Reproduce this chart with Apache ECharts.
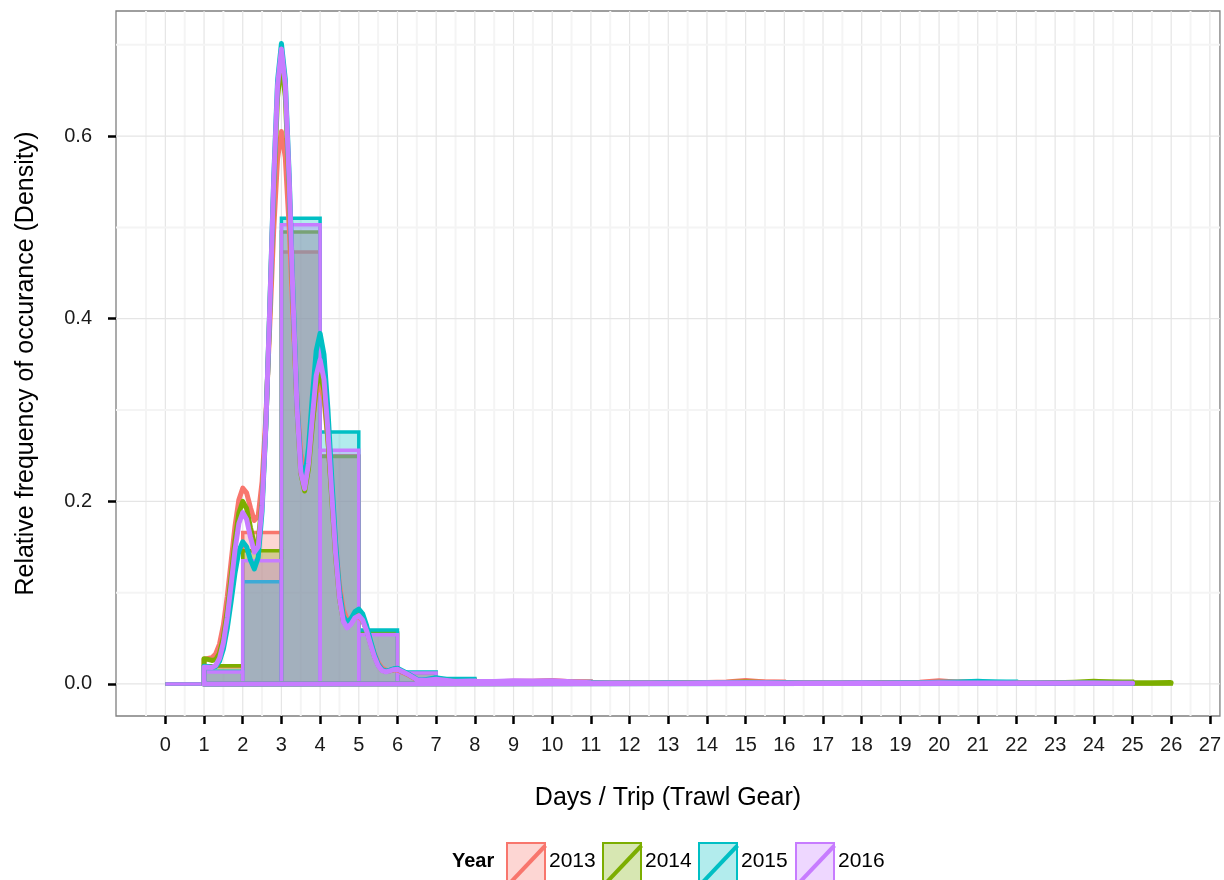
<!DOCTYPE html>
<html>
<head>
<meta charset="utf-8">
<script src="https://cdn.jsdelivr.net/npm/echarts@6/dist/echarts.min.js"></script>
<style>
  html, body { margin: 0; padding: 0; background: #ffffff; }
  #chart { width: 1224px; height: 880px; }
</style>
</head>
<body>
<div id="chart"></div>
<script>
// ---- data -------------------------------------------------------------
const years = ['2013', '2014', '2015', '2016'];

// histogram: bin k covers [k, k+1), heights are densities
const hist2013 = [0, 0.019, 0.166, 0.473, 0.250, 0.055, 0.012, 0.005, 0.002, 0.003, 0.003, 0.0015, 0.001,
  0.0015, 0.0015, 0.003, 0.0015, 0.001, 0.0015, 0.001, 0.003, 0.0015, 0.001, 0.001, 0.0015];
const hist2014 = [0, 0.020, 0.146, 0.495, 0.249, 0.056, 0.012, 0.005, 0.002, 0.002, 0.003, 0.001, 0.001,
  0.001, 0.0015, 0.002, 0.001, 0.001, 0.0015, 0.001, 0.002, 0.001, 0.001, 0.0015, 0.003, 0.001];
const hist2015 = [0, 0.014, 0.112, 0.510, 0.276, 0.059, 0.013, 0.006, 0.002, 0.002, 0.002, 0.001, 0.001,
  0.001, 0.001, 0.002, 0.001, 0.001, 0.001, 0.0015, 0.002, 0.003, 0.001, 0.001, 0.001];
const hist2016 = [0, 0.013, 0.135, 0.503, 0.256, 0.054, 0.012, 0.004, 0.002, 0.003, 0.003, 0.001, 0.001,
  0.001, 0.001, 0.0015, 0.001, 0.001, 0.001, 0.001, 0.0015, 0.001, 0.001, 0.001, 0.001];

// kernel density estimates sampled along days/trip
const densityX = [
  1.0, 1.1, 1.2, 1.3, 1.4, 1.5, 1.6, 1.7, 1.8, 1.9,
  2.0, 2.1, 2.2, 2.3, 2.4, 2.5, 2.6, 2.7, 2.8, 2.9,
  3.0, 3.1, 3.2, 3.3, 3.4, 3.5, 3.6, 3.7, 3.8, 3.9,
  4.0, 4.1, 4.2, 4.3, 4.4, 4.5, 4.6, 4.7, 4.8, 4.9,
  5.0, 5.1, 5.2, 5.3, 5.4, 5.5, 5.6, 5.7, 5.8, 5.9,
  6.0, 6.25, 6.5, 6.75, 7, 7.5, 8, 8.5, 9, 9.5, 10, 10.5, 11, 11.5, 12, 12.5, 13, 13.5,
  14, 14.5, 15, 15.5, 16, 16.5, 17, 17.5, 18, 18.5, 19, 19.5, 20, 20.5, 21, 21.5, 22, 22.5,
  23, 23.5, 24, 24.5, 25, 25.5, 26
];
const dens2013 = [
  0.0272, 0.0278, 0.0287, 0.0328, 0.0437, 0.0645, 0.0958, 0.1341, 0.1726, 0.2018,
  0.2144, 0.2092, 0.1930, 0.1791, 0.1843, 0.2214, 0.2943, 0.3934, 0.4967, 0.5752,
  0.6050, 0.5767, 0.5007, 0.4024, 0.3120, 0.2527, 0.2343, 0.2511, 0.2863, 0.3185,
  0.3297, 0.3117, 0.2676, 0.2098, 0.1529, 0.1084, 0.0814, 0.0706, 0.0702, 0.0732,
  0.0739, 0.0692, 0.0592, 0.0463, 0.0336, 0.0237, 0.0176, 0.0150, 0.0148, 0.0153,
  0.0154, 0.0105, 0.0046, 0.0042, 0.0058, 0.0030, 0.0028, 0.0024, 0.0030, 0.0030, 0.0038, 0.0024,
  0.0016, 0.0011, 0.0012, 0.0012, 0.0015, 0.0013, 0.0016, 0.0022, 0.0038, 0.0022, 0.0016, 0.0010,
  0.0011, 0.0011, 0.0016, 0.0013, 0.0013, 0.0018, 0.0034, 0.0020, 0.0018, 0.0011, 0.0010, 0.0009,
  0.0012, 0.0010, 0.0012, 0.0009, 0.0010
];
const dens2014 = [
  0.0275, 0.0270, 0.0257, 0.0266, 0.0337, 0.0509, 0.0797, 0.1175, 0.1568, 0.1873,
  0.1999, 0.1921, 0.1713, 0.1528, 0.1565, 0.1986, 0.2860, 0.4090, 0.5406, 0.6427,
  0.6814, 0.6437, 0.5437, 0.4167, 0.3027, 0.2307, 0.2113, 0.2360, 0.2833, 0.3260,
  0.3420, 0.3215, 0.2699, 0.2032, 0.1401, 0.0939, 0.0690, 0.0624, 0.0667, 0.0735,
  0.0759, 0.0711, 0.0596, 0.0448, 0.0309, 0.0206, 0.0150, 0.0135, 0.0143, 0.0157,
  0.0162, 0.0110, 0.0047, 0.0043, 0.0060, 0.0030, 0.0026, 0.0022, 0.0026, 0.0026, 0.0030, 0.0020,
  0.0014, 0.0011, 0.0011, 0.0011, 0.0012, 0.0012, 0.0014, 0.0016, 0.0020, 0.0016, 0.0013, 0.0010,
  0.0010, 0.0011, 0.0014, 0.0012, 0.0012, 0.0013, 0.0016, 0.0013, 0.0012, 0.0010, 0.0010, 0.0011,
  0.0014, 0.0020, 0.0030, 0.0020, 0.0013, 0.0011, 0.0012
];
const dens2015 = [
  0.0194, 0.0191, 0.0181, 0.0190, 0.0248, 0.0383, 0.0609, 0.0905, 0.1215, 0.1456,
  0.1557, 0.1503, 0.1358, 0.1260, 0.1386, 0.1892, 0.2844, 0.4149, 0.5534, 0.6606,
  0.7013, 0.6621, 0.5582, 0.4268, 0.3104, 0.2398, 0.2255, 0.2586, 0.3150, 0.3651,
  0.3839, 0.3608, 0.3020, 0.2263, 0.1549, 0.1026, 0.0745, 0.0670, 0.0718, 0.0792,
  0.0819, 0.0767, 0.0642, 0.0480, 0.0328, 0.0217, 0.0158, 0.0141, 0.0151, 0.0166,
  0.0172, 0.0118, 0.0052, 0.0048, 0.0068, 0.0034, 0.0024, 0.0018, 0.0020, 0.0020, 0.0024, 0.0016,
  0.0012, 0.0010, 0.0011, 0.0011, 0.0012, 0.0011, 0.0012, 0.0012, 0.0016, 0.0014, 0.0013, 0.0011,
  0.0011, 0.0010, 0.0012, 0.0011, 0.0012, 0.0014, 0.0018, 0.0022, 0.0030, 0.0020, 0.0012, 0.0010,
  0.0010, 0.0010, 0.0011, 0.0009, 0.0009
];
const dens2016 = [
  0.0184, 0.0183, 0.0180, 0.0202, 0.0281, 0.0452, 0.0730, 0.1090, 0.1467, 0.1757,
  0.1877, 0.1804, 0.1608, 0.1443, 0.1502, 0.1950, 0.2858, 0.4131, 0.5493, 0.6550,
  0.6953, 0.6562, 0.5527, 0.4218, 0.3049, 0.2320, 0.2139, 0.2414, 0.2920, 0.3378,
  0.3549, 0.3335, 0.2791, 0.2091, 0.1431, 0.0946, 0.0685, 0.0614, 0.0655, 0.0724,
  0.0749, 0.0700, 0.0585, 0.0438, 0.0300, 0.0199, 0.0146, 0.0132, 0.0142, 0.0157,
  0.0162, 0.0110, 0.0047, 0.0040, 0.0052, 0.0028, 0.0026, 0.0026, 0.0034, 0.0032, 0.0036, 0.0024,
  0.0014, 0.0010, 0.0010, 0.0010, 0.0011, 0.0010, 0.0012, 0.0012, 0.0014, 0.0012, 0.0011, 0.0010,
  0.0010, 0.0010, 0.0013, 0.0011, 0.0011, 0.0011, 0.0013, 0.0011, 0.0011, 0.0010, 0.0010, 0.0010,
  0.0011, 0.0010, 0.0010, 0.0009, 0.0009
];

// axis breaks
const xTicks = [0, 1, 2, 3, 4, 5, 6, 7, 8, 9, 10, 11, 12, 13, 14, 15, 16, 17, 18, 19, 20, 21, 22, 23, 24, 25, 26, 27];
const xMinor = [-0.5, 0.5, 1.5, 2.5, 3.5, 4.5, 5.5, 6.5, 7.5, 8.5, 9.5, 10.5, 11.5, 12.5, 13.5, 14.5, 15.5,
  16.5, 17.5, 18.5, 19.5, 20.5, 21.5, 22.5, 23.5, 24.5, 25.5, 26.5];
const yTicks = [0, 0.2, 0.4, 0.6];
const yMinor = [0.1, 0.3, 0.5, 0.7];

// ---- styling ----------------------------------------------------------
const palette = ['#F8766D', '#7CAE00', '#00BFC4', '#C77CFF'];
const fills = ['rgba(248,118,109,0.3)', 'rgba(124,174,0,0.3)', 'rgba(0,191,196,0.3)', 'rgba(199,124,255,0.3)'];
const FONT = '"Liberation Sans", Arial, Helvetica, sans-serif';
const histSets = [hist2013, hist2014, hist2015, hist2016];
const densSets = [dens2013, dens2014, dens2015, dens2016];

// ---- build series -----------------------------------------------------
const gridData = [];
xTicks.forEach(v => gridData.push([v, 0]));
xMinor.forEach(v => gridData.push([v, 1]));
yTicks.forEach(v => gridData.push([v, 2]));
yMinor.forEach(v => gridData.push([v, 3]));

const gridSeries = {
  type: 'custom',
  silent: true,
  z: 1,
  data: gridData,
  encode: { x: -1, y: -1 },
  renderItem: function (params, api) {
    const v = api.value(0), kind = api.value(1);
    const cs = params.coordSys;
    const major = kind === 0 || kind === 2;
    const style = { stroke: major ? '#e5e5e5' : '#f4f4f4', lineWidth: major ? 1.2 : 2 };
    if (kind < 2) {
      const x = api.coord([v, 0])[0];
      return { type: 'line', shape: { x1: x, y1: cs.y, x2: x, y2: cs.y + cs.height }, style: style };
    }
    const y = api.coord([0, v])[1];
    return { type: 'line', shape: { x1: cs.x, y1: y, x2: cs.x + cs.width, y2: y }, style: style };
  }
};

const histSeries = histSets.map((heights, i) => ({
  type: 'custom',
  name: years[i],
  z: 2,
  silent: true,
  data: heights.map((h, k) => [k, k + 1, h]),
  encode: { x: [0, 1], y: 2 },
  renderItem: function (params, api) {
    const top = api.coord([api.value(0), api.value(2)]);
    const bot = api.coord([api.value(1), 0]);
    return {
      type: 'rect',
      shape: { x: top[0], y: top[1], width: bot[0] - top[0], height: bot[1] - top[1] },
      style: { fill: fills[i], stroke: palette[i], lineWidth: 3.5 }
    };
  }
}));

const densSeries = densSets.map((vals, i) => {
  const pts = vals.map((v, j) => [densityX[j], v]);
  const x0 = densityX[0], x1 = densityX[vals.length - 1];
  // closed outline: baseline, curve, back down to baseline
  const data = [[x0, 0]].concat(pts, [[x1, 0], [x0, 0]]);
  return {
    type: 'line',
    name: years[i],
    z: 3,
    silent: true,
    showSymbol: false,
    symbol: 'none',
    smooth: false,
    data: data,
    lineStyle: { color: palette[i], width: 5, join: 'round', cap: 'round' }
  };
});

// ---- legend (drawn as graphic elements) -------------------------------
const legendGraphic = [{
  type: 'text', left: 452, top: 851,
  style: { text: 'Year', font: 'bold 20px ' + FONT, fill: '#000' }
}];
const keyLeft = [506, 602, 698, 795];
years.forEach((y, i) => {
  const x = keyLeft[i];
  legendGraphic.push({
    type: 'rect', left: x, top: 842,
    shape: { x: 0, y: 0, width: 38, height: 40 },
    style: { fill: fills[i], stroke: palette[i], lineWidth: 2 }
  });
  legendGraphic.push({
    type: 'line', left: x + 1, top: 843,
    shape: { x1: 0, y1: 38, x2: 36, y2: 0 },
    style: { stroke: palette[i], lineWidth: 4 }
  });
  legendGraphic.push({
    type: 'text', left: x + 43, top: 851,
    style: { text: y, font: '21px ' + FONT, fill: '#000' }
  });
});

// ---- chart ------------------------------------------------------------
const chart = echarts.init(document.getElementById('chart'), null, { renderer: 'canvas' });
chart.setOption({
  animation: false,
  backgroundColor: '#ffffff',
  textStyle: { fontFamily: FONT },
  grid: {
    left: 116, right: 3, top: 11, bottom: 164,
    show: true, borderColor: '#7f7f7f', borderWidth: 1.3, backgroundColor: '#ffffff'
  },
  xAxis: {
    type: 'value',
    min: -1.276, max: 27.26,
    name: 'Days / Trip (Trawl Gear)',
    nameLocation: 'middle',
    nameGap: 70,
    nameTextStyle: { fontSize: 25, color: '#000', fontFamily: FONT },
    axisLine: { show: false, onZero: false },
    axisTick: { show: true, customValues: xTicks, length: 8, lineStyle: { color: '#000', width: 2.5 } },
    axisLabel: { customValues: xTicks, fontSize: 20, color: '#1a1a1a', margin: 19, fontFamily: FONT },
    splitLine: { show: false }
  },
  yAxis: {
    type: 'value',
    min: -0.0351, max: 0.737,
    name: 'Relative frequency of occurance (Density)',
    nameLocation: 'middle',
    nameGap: 77,
    nameTextStyle: { fontSize: 25, color: '#000', fontFamily: FONT },
    axisLine: { show: false, onZero: false },
    axisTick: { show: true, customValues: yTicks, length: 8, lineStyle: { color: '#000', width: 2.5 } },
    axisLabel: {
      customValues: yTicks, fontSize: 20, color: '#1a1a1a', margin: 24, fontFamily: FONT,
      formatter: v => v.toFixed(1)
    },
    splitLine: { show: false }
  },
  graphic: legendGraphic,
  series: [gridSeries].concat(histSeries, densSeries)
});
</script>
</body>
</html>
